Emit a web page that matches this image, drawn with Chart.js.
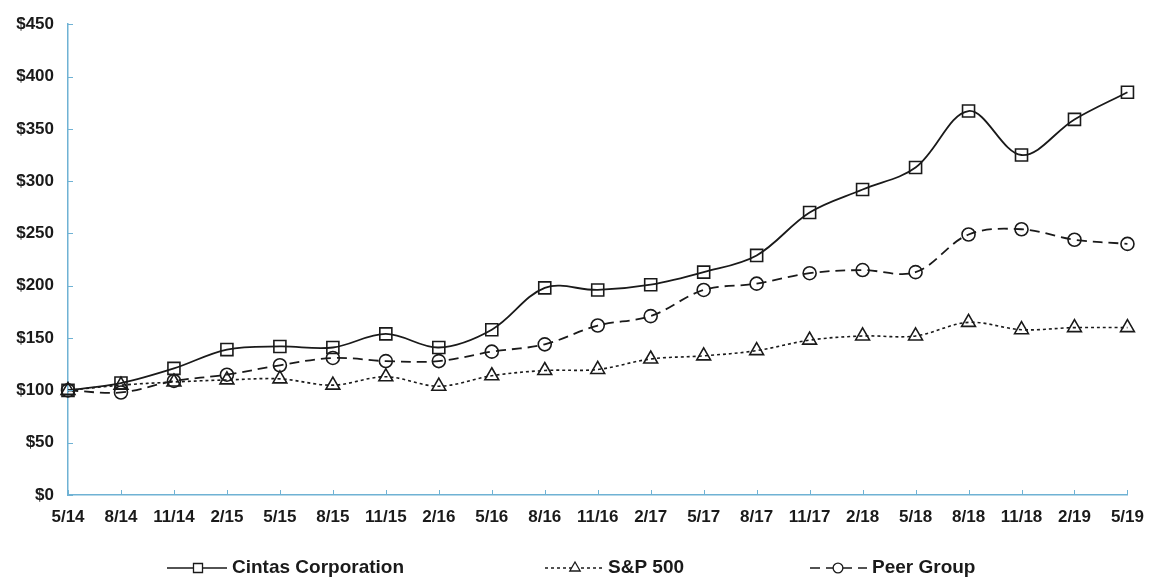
<!DOCTYPE html>
<html>
<head>
<meta charset="utf-8">
<style>
    html, body { margin: 0; padding: 0; background: #fff; }
    #wrap { width: 1156px; height: 585px; position: relative; }
</style>
</head>
<body>
<div id="wrap">
    <canvas id="myChart" width="1156" height="585"></canvas>
</div>
<script src="https://cdn.jsdelivr.net/npm/chart.js"></script>
<script>
    const periodos = ['5/14','8/14','11/14','2/15','5/15','8/15','11/15','2/16','5/16','8/16','11/16',
                      '2/17','5/17','8/17','11/17','2/18','5/18','8/18','11/18','2/19','5/19'];
    const cintas = [100,107,121,139,142,141,154,141,158,198,196,201,213,229,270,292,313,367,325,359,385];
    const sp500  = [100,105,108,110,111,105,113,104,114,119,120,130,133,138,148,152,152,165,158,160,160];
    const peer   = [100, 98,109,115,124,131,128,128,137,144,162,171,196,202,212,215,213,249,254,244,240];
    const nombres = ['Cintas Corporation', 'S&P 500', 'Peer Group'];

    const ejeColor = '#6fb2d4';
    const tinta = '#1a1a1a';

    // small tick marks pointing into the plot, like the original
    const ticksDentro = {
        id: 'ticksDentro',
        afterDraw(chart) {
            const ctx = chart.ctx;
            const x = chart.scales.x, y = chart.scales.y;
            ctx.save();
            ctx.strokeStyle = ejeColor;
            ctx.lineWidth = 1;
            x.ticks.forEach((t, i) => {
                const px = Math.round(x.getPixelForTick(i)) + 0.5;
                ctx.beginPath();
                ctx.moveTo(px, y.bottom);
                ctx.lineTo(px, y.bottom - 5);
                ctx.stroke();
            });
            y.ticks.forEach((t, i) => {
                const py = Math.round(y.getPixelForTick(i)) + 0.5;
                ctx.beginPath();
                ctx.moveTo(x.left, py);
                ctx.lineTo(x.left + 5, py);
                ctx.stroke();
            });
            ctx.restore();
        }
    };

    // legend with line + marker, drawn under the axis
    const leyenda = {
        id: 'leyenda',
        afterDraw(chart) {
            const ctx = chart.ctx;
            const items = [
                {x1: 167, x2: 227, m: 198, tx: 232},
                {x1: 545, x2: 603, m: 575, tx: 608},
                {x1: 810, x2: 867, m: 838, tx: 872}
            ];
            const yy = 568;
            ctx.save();
            chart.data.datasets.forEach((ds, i) => {
                const it = items[i];
                ctx.strokeStyle = tinta;
                ctx.lineWidth = 1.5;
                ctx.setLineDash(ds.borderDash || []);
                ctx.beginPath();
                ctx.moveTo(it.x1, yy);
                ctx.lineTo(it.x2, yy);
                ctx.stroke();
                ctx.setLineDash([]);
                ctx.lineWidth = 1.3;
                ctx.fillStyle = '#fff';
                Chart.helpers.drawPoint(ctx, {
                    pointStyle: ds.pointStyle,
                    rotation: 0,
                    radius: ds.pointRadius * 0.75,
                    borderWidth: 1.3
                }, it.m, yy);
                ctx.fillStyle = tinta;
                ctx.font = 'bold 19px "Liberation Sans", Arial, sans-serif';
                ctx.textBaseline = 'middle';
                ctx.fillText(ds.label, it.tx, yy);
            });
            ctx.restore();
        }
    };

    const data = {
        labels: periodos,
        datasets: [{
            label: nombres[0],
            data: cintas,
            borderColor: tinta,
            borderWidth: 1.8,
            pointStyle: 'rect',
            pointRadius: 8.5,
            pointBorderWidth: 1.6,
            pointBorderColor: tinta,
            pointBackgroundColor: 'rgba(0,0,0,0)',
            tension: 0.35
        }, {
            label: nombres[1],
            data: sp500,
            borderColor: tinta,
            borderWidth: 1.6,
            borderDash: [3, 3],
            pointStyle: 'triangle',
            pointRadius: 8,
            pointBorderWidth: 1.6,
            pointBorderColor: tinta,
            pointBackgroundColor: 'rgba(0,0,0,0)',
            tension: 0.35
        }, {
            label: nombres[2],
            data: peer,
            borderColor: tinta,
            borderWidth: 1.8,
            borderDash: [10, 6],
            pointStyle: 'circle',
            pointRadius: 6.5,
            pointBorderWidth: 1.6,
            pointBorderColor: tinta,
            pointBackgroundColor: 'rgba(0,0,0,0)',
            tension: 0.35
        }]
    };

    const config = {
        type: 'line',
        data: data,
        options: {
            responsive: false,
            animation: false,
            layout: { padding: { top: 20, right: 21, bottom: 55, left: 0 } },
            plugins: {
                legend: { display: false },
                tooltip: { enabled: false }
            },
            scales: {
                x: {
                    grid: { display: false, drawTicks: false },
                    border: { color: ejeColor, width: 1.5 },
                    ticks: {
                        color: tinta,
                        padding: 12,
                        maxRotation: 0,
                        autoSkip: false,
                        font: { family: '"Liberation Sans", Arial, sans-serif', size: 17, weight: 'bold' }
                    },
                    afterFit(scale) { scale.height = 35; }
                },
                y: {
                    min: 0,
                    max: 450,
                    grid: { display: false, drawTicks: false },
                    border: { color: ejeColor, width: 1.5 },
                    ticks: {
                        stepSize: 50,
                        color: tinta,
                        padding: 14,
                        font: { family: '"Liberation Sans", Arial, sans-serif', size: 17, weight: 'bold' },
                        callback: function(value) {
                            return '$' + value;
                        }
                    },
                    afterFit(scale) { scale.width = 68; }
                }
            }
        },
        plugins: [ticksDentro, leyenda]
    };

    new Chart(document.getElementById('myChart'), config);
</script>
</body>
</html>
